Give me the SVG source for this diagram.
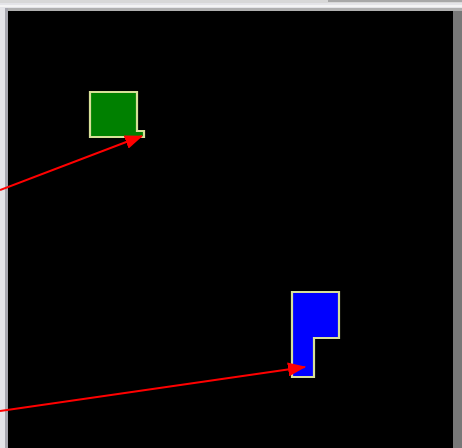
<svg xmlns="http://www.w3.org/2000/svg" width="462" height="448" viewBox="0 0 462 448">
<defs>
<style>
.shape{stroke:#d8e098;stroke-width:2.2;stroke-linejoin:miter}
.conn{stroke:#ff0000;stroke-width:2;fill:none}
</style>
<marker id="ah" viewBox="0 0 18 14" refX="17" refY="7" markerWidth="18" markerHeight="14" markerUnits="userSpaceOnUse" orient="auto">
<path d="M0,0 L18,7 L0,14 Z" fill="#ff0000"/>
</marker>
</defs>
<rect x="0" y="0" width="462" height="448" fill="#e4e4e8"/>
<rect x="0" y="0" width="462" height="3" fill="#d8d8d8"/>
<rect x="328" y="0" width="134" height="2" fill="#a8a8a8"/>
<rect x="0" y="5" width="462" height="2" fill="#f4f4f4"/>
<rect x="5" y="8" width="457" height="3" fill="#b0b0b0"/>
<rect x="5" y="8" width="3" height="440" fill="#a8a8b0"/>
<rect x="8" y="11" width="445" height="437" fill="#000000"/>
<rect x="453" y="11" width="9" height="437" fill="#787878"/>
<g id="green-node">
<polygon class="shape" points="90,92 137,92 137,131 144,131 144,137 90,137" fill="#008000"/>
</g>
<g id="blue-node">
<polygon class="shape" points="292,292 339,292 339,338 314,338 314,377 292,377" fill="#0000ff"/>
</g>
<g id="connectors">
<line class="conn" x1="0" y1="190" x2="142" y2="136" marker-end="url(#ah)"/>
<line class="conn" x1="0" y1="411" x2="305" y2="367" marker-end="url(#ah)"/>
</g>
</svg>
